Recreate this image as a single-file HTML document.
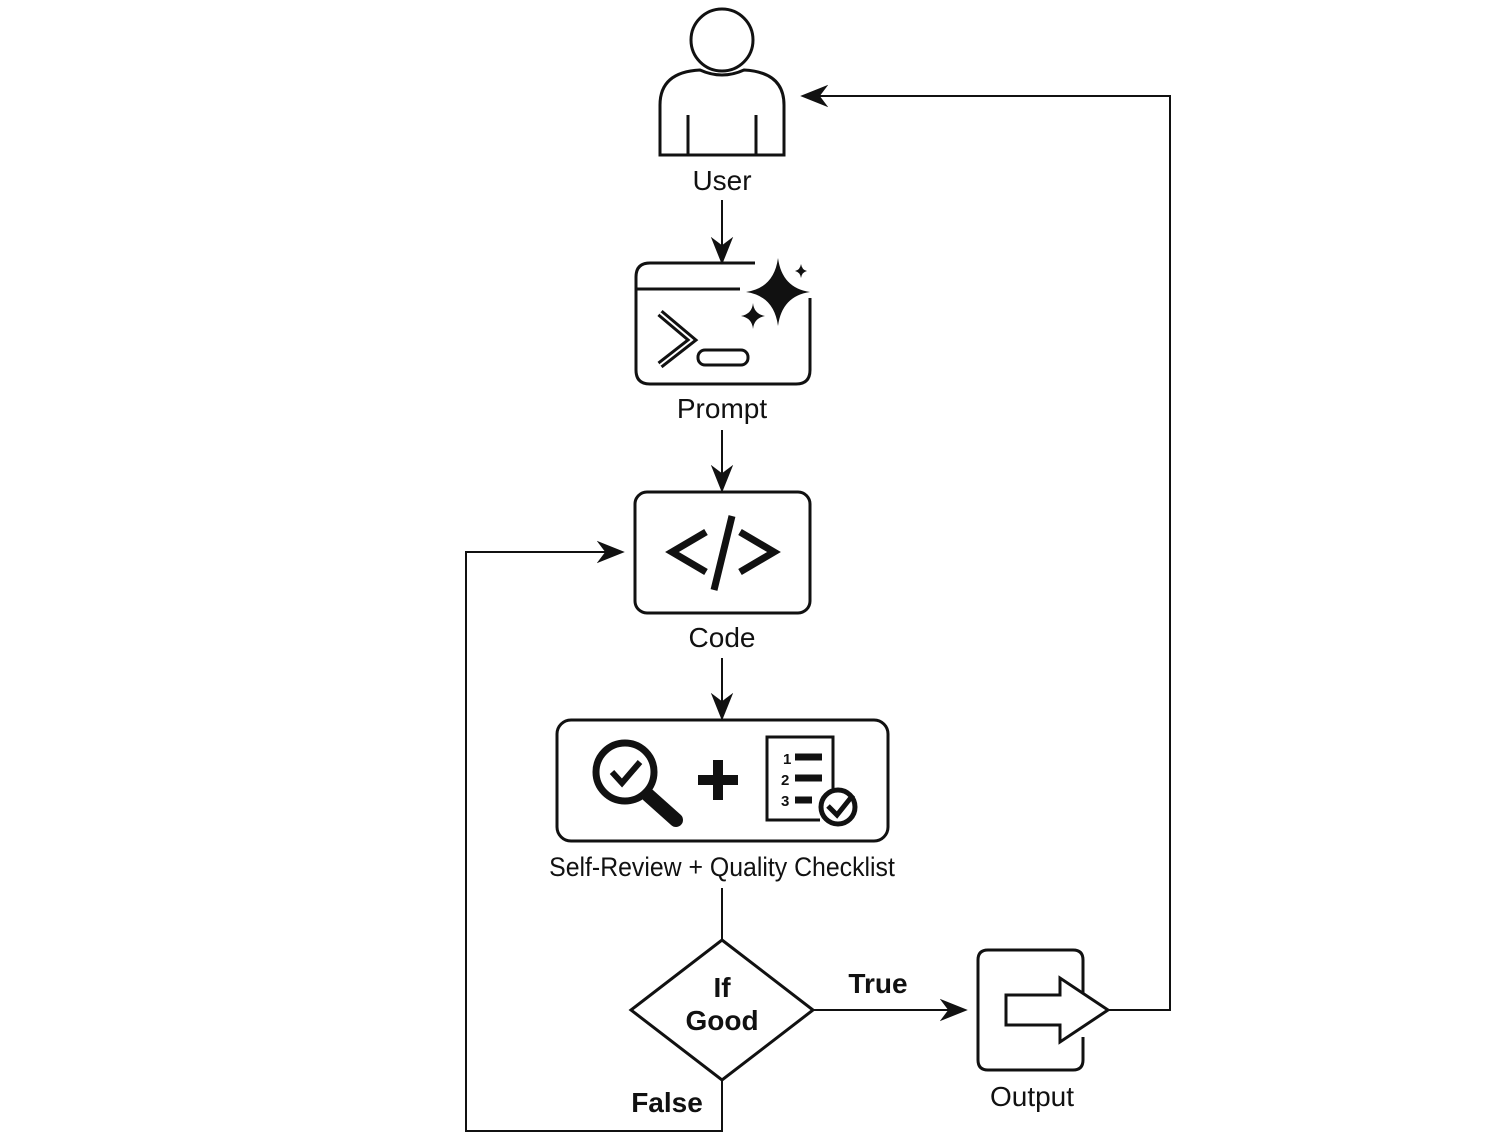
<!DOCTYPE html>
<html><head><meta charset="utf-8"><style>
html,body{margin:0;padding:0;background:#fff;}
svg{display:block;}
text{font-family:"Liberation Sans",sans-serif;fill:#111;}
</style></head><body>
<svg width="1500" height="1144" viewBox="0 0 1500 1144" xmlns="http://www.w3.org/2000/svg">
<defs>
<marker id="a" viewBox="0 0 10 10" refX="9" refY="5" markerWidth="10" markerHeight="10" markerUnits="userSpaceOnUse" orient="auto">
<path d="M0,0 L10,5 L0,10 L3,5 Z" fill="#111"/></marker>
<marker id="b" viewBox="0 0 10 10" refX="9" refY="5" markerWidth="28" markerHeight="28" markerUnits="userSpaceOnUse" orient="auto">
<path d="M0,1 L10,5 L0,9 L3,5 Z" fill="#111"/></marker>
</defs>
<g fill="none" stroke="#111" stroke-width="3">
<!-- User -->
<circle cx="722" cy="40" r="31"/>
<path d="M660,155 L660,105 Q660,72 700,70 Q722,80 744,70 Q784,72 784,105 L784,155 Z"/>
<line x1="688" y1="115" x2="688" y2="155"/><line x1="756" y1="115" x2="756" y2="155"/>
<!-- Prompt -->
<path d="M755,263 L650,263 Q636,263 636,277 L636,370 Q636,384 650,384 L796,384 Q810,384 810,370 L810,298"/>
<line x1="636" y1="289" x2="740" y2="289"/>
<path d="M660,313 L692,340 L660,365" stroke-width="8"/>
<path d="M660,313 L692,340 L660,365" stroke="#fff" stroke-width="2"/>
<rect x="698" y="350" width="50" height="15" rx="7"/>
<!-- Code -->
<rect x="635" y="492" width="175" height="121" rx="12"/>
<path d="M706,532 L672,552 L706,572 M740,532 L774,552 L740,572 M732,516 L714,590" stroke-width="7"/>
<!-- Review -->
<rect x="557" y="720" width="331" height="121" rx="14"/>
<circle cx="625" cy="772" r="29" stroke-width="7"/>
<path d="M612,772 L622,783 L640,762" stroke-width="6"/>
<path d="M648,795 L676,820" stroke-width="14" stroke-linecap="round"/>
<path d="M718,760 V800 M698,780 H738" stroke-width="10"/>
<path d="M820,820 L767,820 L767,737 L833,737 L833,790"/>
<path d="M795,757 H822 M795,778 H822 M795,800 H812" stroke-width="7"/>
<circle cx="838" cy="807" r="17" stroke-width="5"/>
<path d="M828,806 L837,815 L853,795" stroke-width="5"/>
<!-- Diamond -->
<path d="M722,940 L813,1010 L722,1080 L631,1010 Z"/>
<!-- Output -->
<path d="M1083,993 V960 Q1083,950 1073,950 L988,950 Q978,950 978,960 L978,1060 Q978,1070 988,1070 L1073,1070 Q1083,1070 1083,1060 V1037"/>
<path d="M1006,995 L1060,995 L1060,978 L1108,1010 L1060,1042 L1060,1025 L1006,1025 Z"/>
<!-- connectors -->
<g stroke-width="2">
<line x1="722" y1="200" x2="722" y2="262" marker-end="url(#b)"/>
<line x1="722" y1="430" x2="722" y2="490" marker-end="url(#b)"/>
<line x1="722" y1="658" x2="722" y2="718" marker-end="url(#b)"/>
<line x1="722" y1="888" x2="722" y2="940"/>
<line x1="813" y1="1010" x2="965" y2="1010" marker-end="url(#b)"/>
<polyline points="1108,1010 1170,1010 1170,96 803,96" marker-end="url(#b)"/>
<polyline points="722,1080 722,1131 466,1131 466,552 622,552" marker-end="url(#b)"/>
</g>
</g>
<!-- sparkles -->
<path d="M778,258 Q782,288 810,292 Q782,296 778,326 Q774,296 746,292 Q774,288 778,258 Z" fill="#111"/>
<path d="M753,303 Q754,314 765,316 Q754,318 753,329 Q752,318 741,316 Q752,314 753,303 Z" fill="#111"/>
<path d="M801,264 Q802,270 807,271 Q802,272 801,278 Q800,272 795,271 Q800,270 801,264 Z" fill="#111"/>
<!-- labels -->
<g font-size="28" text-anchor="middle">
<text x="722" y="190">User</text>
<text x="722" y="418">Prompt</text>
<text x="722" y="647">Code</text>
<text x="722" y="876" font-size="27" transform="translate(722,0) scale(0.92,1) translate(-722,0)">Self-Review + Quality Checklist</text>
<text x="1032" y="1106">Output</text>
<text x="722" y="997" font-weight="bold">If</text>
<text x="722" y="1030" font-weight="bold">Good</text>
<text x="878" y="993" font-weight="bold">True</text>
<text x="667" y="1112" font-weight="bold">False</text>
</g>
<text x="783" y="764" font-size="15" font-weight="bold">1</text>
<text x="781" y="785" font-size="15" font-weight="bold">2</text>
<text x="781" y="806" font-size="15" font-weight="bold">3</text>
</svg>
</body></html>
